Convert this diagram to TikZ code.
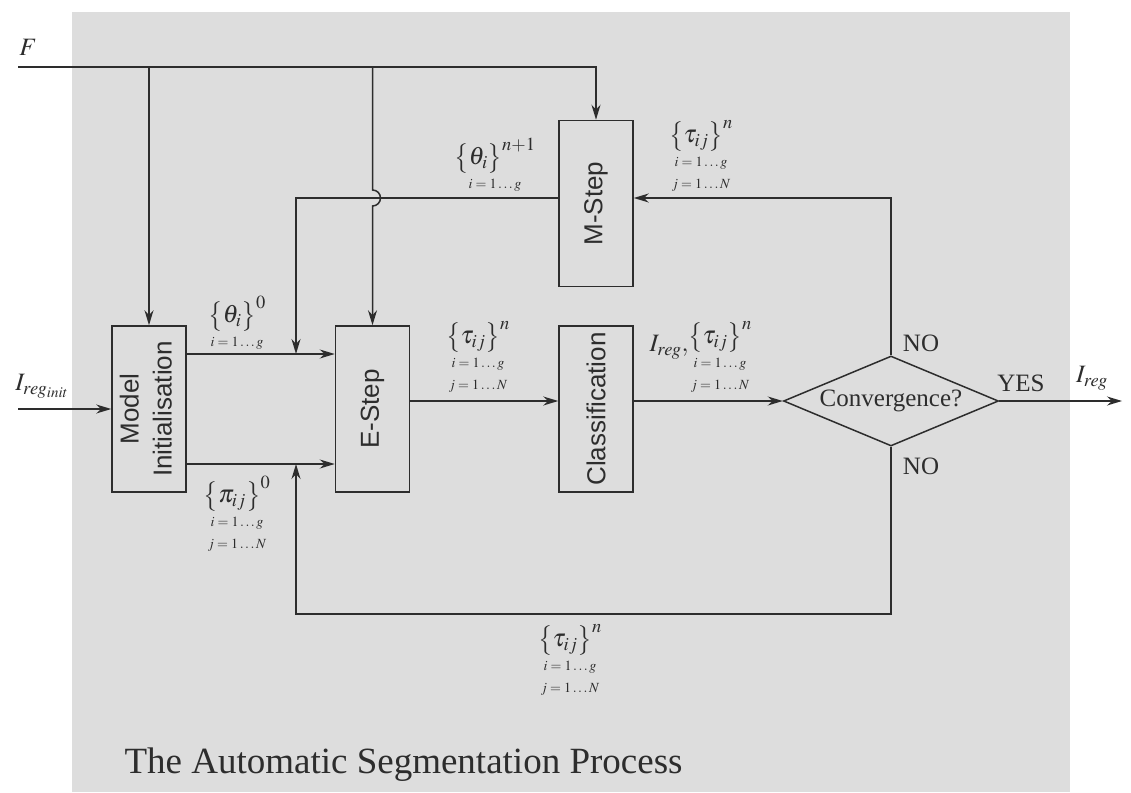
\documentclass[tikz,border=0pt]{standalone}
\usepackage{amsmath}
\usepackage{graphicx}
\usepackage{mathptmx}
\usepackage{fontspec}
\setmainfont{Liberation Serif}
\setsansfont{Liberation Sans}
\usetikzlibrary{positioning,arrows.meta,shapes.geometric}
\definecolor{bg}{RGB}{221,221,221}
\definecolor{ink}{RGB}{45,45,45}
\newcommand{\subfont}{\fontsize{14}{15}\selectfont}
\newcommand{\tauset}{$\bigl\{\tau_{ij}\bigr\}^{n}$\\[-6pt]{\subfont$i=1\ldots g$}\\[-8pt]{\subfont$j=1\ldots N$}}

\begin{document}
\begin{tikzpicture}[x=1pt,y=-1pt,>={Stealth[length=15pt,width=9pt]},node distance=38pt and 148pt,
  every node/.style={text=ink,font=\fontsize{25}{30}\selectfont},
  blk/.style={draw=ink,line width=1.5pt,minimum width=74pt,minimum height=166pt,inner sep=0pt,font=\sffamily\fontsize{26}{30}\selectfont},
  dec/.style={diamond,draw=ink,line width=1.5pt,minimum width=215pt,minimum height=90pt,aspect=2.4,inner sep=0pt},
  lbl/.style={align=center,inner sep=0pt},
  wire/.style={draw=ink,line width=1.5pt}]
\useasboundingbox (0,0) rectangle (1131,792);
\fill[bg] (72,12) rectangle (1070,792);
\node[blk] (init) at (149,409) {\rotatebox{90}{\begin{tabular}{@{}c@{}}Model\\[3pt]Initialisation\end{tabular}}};
\node[blk,right=of init] (estep) {\rotatebox{90}{E-Step}};
\node[blk,right=of estep] (cls) {\rotatebox{90}{Classification}};
\node[blk,above=of cls] (mstep) {\rotatebox{90}{M-Step}};
\node[dec] (conv) at (891,401) {Convergence?};
\coordinate (fin) at (18,67);
\coordinate (iin) at (18,409);
\coordinate (ml) at (296,198);
\coordinate (bl) at (296,614);
\coordinate (up) at (296,354);
\coordinate (lo) at (296,464);
\coordinate (out) at (1122,401);
\coordinate (jx) at (estep.north |- ml);
\draw[wire,->] (fin) -| (mstep.north);
\draw[wire,->] (init.north |- fin) -- (init.north);
\draw[wire,->] (estep.north |- fin) -- ([yshift=8pt]jx) arc[start angle=90,end angle=-90,radius=8pt] -- (estep.north);
\draw[wire,->] (iin) -- (init.west);
\draw[wire,->] (init.east |- up) -- (estep.west |- up);
\draw[wire,->] (init.east |- lo) -- (estep.west |- lo);
\draw[wire,->] (mstep.west |- ml) -| (up);
\draw[wire,->] (estep.east |- conv) -- (cls.west |- conv);
\draw[wire,->] (cls.east |- conv) -- (conv.west);
\draw[wire,->] (conv.north) |- (mstep.east |- ml);
\draw[wire,->] (conv.south) |- (bl) -- (lo);
\draw[wire,->] (conv.east) -- (out);
\node (flbl) at (28,47) {$F$};
\node (iinlbl) at (42,386) {$I_{reg_{init}}$};
\node[lbl,anchor=south] (th0) at (237,350) {$\bigl\{\theta_i\bigr\}^{0}$\\[-6pt]{\subfont$i=1\ldots g$}};
\node[lbl,anchor=north] (pi0) at (237,476) {$\bigl\{\pi_{ij}\bigr\}^{0}$\\[-6pt]{\subfont$i=1\ldots g$}\\[-8pt]{\subfont$j=1\ldots N$}};
\node[lbl,anchor=south] (tau1) at (478,393) {\tauset};
\node[lbl,anchor=south] (thn) at (495,192) {$\bigl\{\theta_i\bigr\}^{n+1}$\\[-6pt]{\subfont$i=1\ldots g$}};
\node[lbl,anchor=south] (tau2) at (701,192) {\tauset};
\node[lbl,anchor=south] (tau3) at (720,393) {\tauset};
\node[anchor=east] (ireg) at (692,347) {$I_{reg},$};
\node[lbl,anchor=north] (tau4) at (570,624) {\tauset};
\node (no1) at (921,343) {NO};
\node (no2) at (921,466) {NO};
\node (yes) at (1021,383) {YES};
\node (iout) at (1092,378) {$I_{reg}$};
\node[anchor=base west,font=\fontsize{37}{42}\selectfont] (cap) at (121,773) {The Automatic Segmentation Process};
\end{tikzpicture}
\end{document}
